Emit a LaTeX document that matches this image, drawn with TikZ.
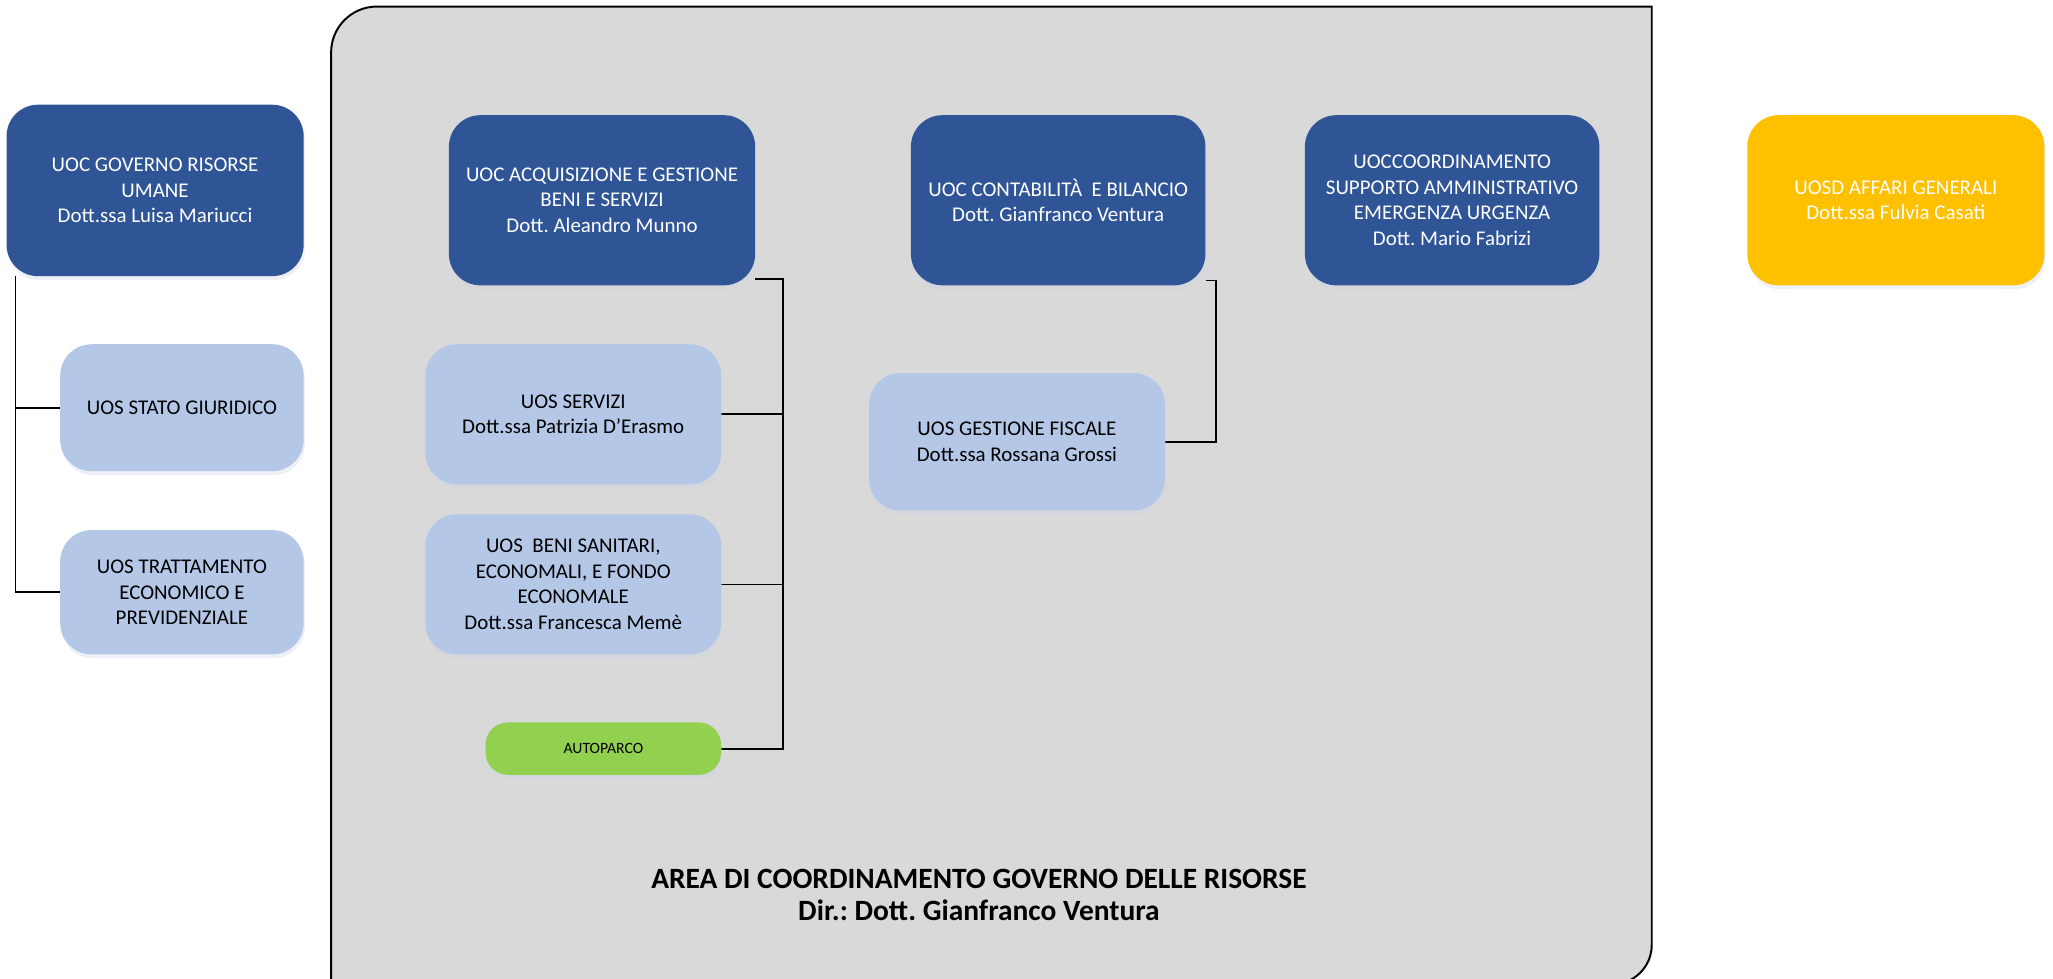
\documentclass[tikz,border=0pt]{standalone}
\usepackage{fontspec}
\setmainfont{Carlito}
\usetikzlibrary{shadows}
\definecolor{uocblue}{HTML}{2F5597}
\definecolor{uoslight}{HTML}{B4C7E7}
\definecolor{autogreen}{HTML}{92D050}
\definecolor{uosdyellow}{HTML}{FFC000}
\definecolor{areagrey}{HTML}{D9D9D9}
\pgfdeclarelayer{back}
\pgfdeclarelayer{wires}
\pgfsetlayers{back,wires,main}
\frenchspacing
\tikzset{
  unit/.style={rounded corners=24pt, align=center, inner sep=2pt,
    font=\fontsize{16}{19.5}\selectfont,
    drop shadow={shadow xshift=1pt, shadow yshift=-3pt, fill=uocblue!25, opacity=.35}},
  uoc/.style={unit, fill=uocblue, text=white},
  uos/.style={unit, fill=uoslight, text=black},
  uosd/.style={unit, fill=uosdyellow, text=white},
  parco/.style={unit, fill=autogreen, text=black, rounded corners=17pt,
    font=\fontsize{12}{14}\selectfont},
  wire/.style={line width=1.3pt},
  areatitle/.style={align=center, font=\fontsize{22.5}{24.5}\selectfont\bfseries}
}
\begin{document}
\begin{tikzpicture}[x=1pt, y=-1pt]
        \useasboundingbox (0,0) rectangle (1568.6,748);

        % Draw area box
        \begin{pgfonlayer}{back}
          \draw[line width=1.5pt, fill=areagrey] (253,752) -- (253,40)
            arc[start angle=180, end angle=90, radius=35pt] -- (1262,5) -- (1262,722)
            arc[start angle=0, end angle=-90, radius=30pt] -- (253,752);
        \end{pgfonlayer}
        \node[areatitle] (area) at (748,684) {AREA DI COORDINAMENTO GOVERNO DELLE RISORSE\\Dir.: Dott. Gianfranco Ventura};

        % Left units
        \node[uoc, minimum width=227pt, minimum height=131pt] (gru) at (118.5,145.5) {UOC GOVERNO RISORSE\\UMANE\\Dott.ssa Luisa Mariucci};
        \node[uos, minimum width=186pt, minimum height=97pt] (stato) at (139,311.5) {UOS STATO GIURIDICO};
        \node[uos, minimum width=186pt, minimum height=95pt] (tratt) at (139,452.5) {UOS TRATTAMENTO\\ECONOMICO E\\PREVIDENZIALE};

        % Units inside the area
        \node[uoc, minimum width=234pt, minimum height=130pt] (acq) at (460,153) {UOC ACQUISIZIONE E GESTIONE\\BENI E SERVIZI\\Dott. Aleandro Munno};
        \node[uos, minimum width=226pt, minimum height=107pt] (servizi) at (438,316.5) {UOS SERVIZI\\Dott.ssa Patrizia D’Erasmo};
        \node[uos, minimum width=226pt, minimum height=107pt] (beni) at (438,446.5) {UOS\ \ BENI SANITARI,\\ECONOMALI, E FONDO\\ECONOMALE\\Dott.ssa Francesca Memè};
        \node[parco, minimum width=180pt, minimum height=40pt] (auto) at (461,572) {AUTOPARCO};
        \node[uoc, minimum width=225pt, minimum height=130pt] (cont) at (808.5,153) {UOC CONTABILITÀ\ \ E BILANCIO\\Dott. Gianfranco Ventura};
        \node[uos, minimum width=226pt, minimum height=105pt] (fiscale) at (777,337.5) {UOS GESTIONE FISCALE\\Dott.ssa Rossana Grossi};
        \node[uoc, minimum width=225pt, minimum height=130pt] (coord) at (1109.5,153) {UOCCOORDINAMENTO\\SUPPORTO AMMINISTRATIVO\\EMERGENZA URGENZA\\Dott. Mario Fabrizi};

        % Right unit
        \node[uosd, minimum width=227pt, minimum height=130pt] (affari) at (1448.5,153) {UOSD AFFARI GENERALI\\Dott.ssa Fulvia Casati};

        % Draw connectors
        \begin{pgfonlayer}{wires}
          \foreach \n in {stato,tratt} {
            \draw[wire] ([xshift=7pt]gru.south west) |- (\n.west);
          }
          \coordinate (busacq) at ([xshift=21pt,yshift=5pt]acq.south east);
          \draw[wire] ([yshift=5pt]acq.south east) -- (busacq) |- (auto.east);
          \foreach \n in {servizi,beni} {
            \draw[wire] (busacq) |- (\n.east);
          }
          \coordinate (buscont) at ([xshift=8pt,yshift=4pt]cont.south east);
          \draw[wire] ([yshift=4pt]cont.south east) -- (buscont) |- (fiscale.east);
        \end{pgfonlayer}
    \end{tikzpicture}
\end{document}
